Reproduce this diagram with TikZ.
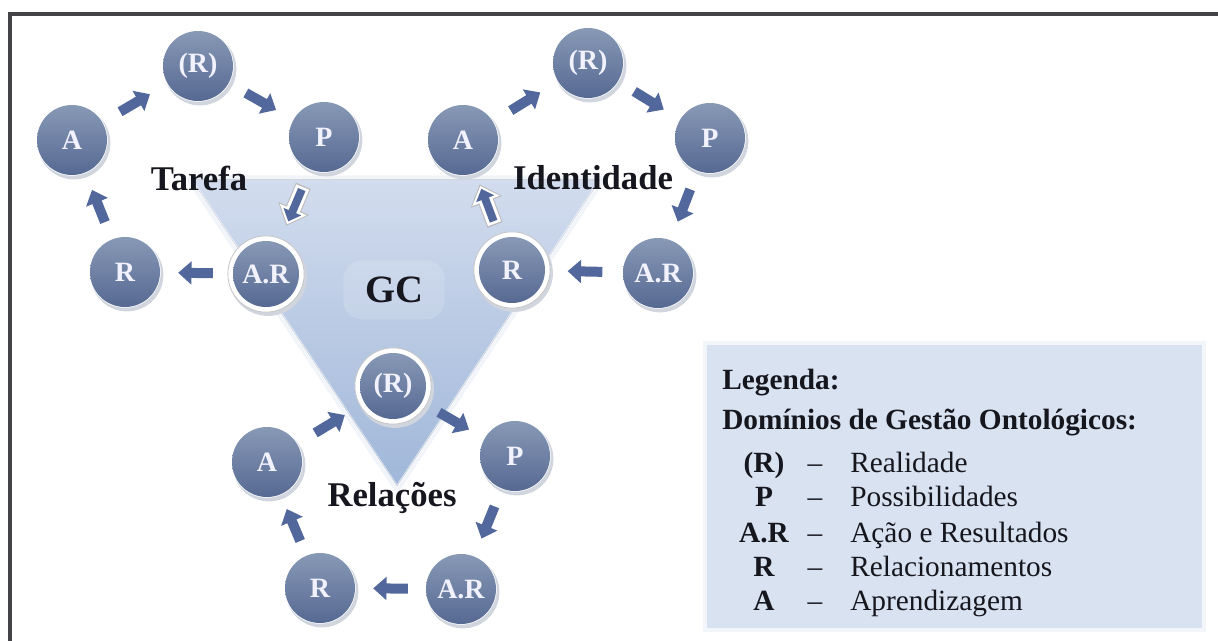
\documentclass[tikz,border=0pt]{standalone}
\usepackage{fontspec}
\setmainfont{Liberation Serif}
\usetikzlibrary{calc,arrows.meta}

\definecolor{ballTop}{RGB}{136,153,182}
\definecolor{ballBot}{RGB}{86,105,146}
\definecolor{arrowBlue}{RGB}{82,104,156}
\definecolor{triTop}{RGB}{210,220,238}
\definecolor{triBot}{RGB}{160,183,217}
\definecolor{legendFill}{RGB}{217,226,240}
\definecolor{frameGray}{RGB}{68,68,72}
\definecolor{rimGray}{RGB}{208,213,222}
\definecolor{inkDark}{RGB}{22,22,30}

\tikzset{
  dom/.style={circle, minimum size=52.5pt, inner sep=0pt,
    top color=ballTop, bottom color=ballBot, text=white!95!blue,
    font=\bfseries\fontsize{21}{21}\selectfont},
  domring/.style={dom, minimum size=49.5pt},
  cyclename/.style={text=inkDark, inner sep=0pt,
    font=\bfseries\fontsize{26}{26}\selectfont},
  blk/.style={arrowBlue, line width=7.5pt,
    -{Triangle[width=17pt,length=10pt]}},
  blkout/.style={line width=12pt, -{Triangle[width=24pt,length=14pt]}},
  legtext/.style={text=inkDark, inner sep=0pt, anchor=base,
    font=\fontsize{22}{22}\selectfont},
  legbold/.style={legtext, font=\bfseries\fontsize{22}{22}\selectfont},
}

% a domain circle with its soft rim
\newcommand\domain[3]{%
  \fill[rimGray] ($(#2)+(2,3)$) circle[radius=27.3pt];
  \fill[white] (#2) circle[radius=26.8pt];
  \node[dom] (#1) at (#2) {#3};}
% a domain circle framed by a white ring
\newcommand\domainring[3]{%
  \fill[rimGray] ($(#2)+(2,3)$) circle[radius=29.2pt];
  \filldraw[white, draw=gray!45, line width=0.6pt] (#2) circle[radius=28.6pt];
  \node[domring] (#1) at (#2) {#3};}
% short block arrow centred between two domains
\newcommand\flow[2]{%
  \draw[blk] ($(#1)!0.5!(#2)!13pt!(#1)$) -- ($(#1)!0.5!(#2)!13pt!(#2)$);}
% block arrow with a white outline
\newcommand\flowout[2]{%
  \draw[blkout, gray!55] ($(#1)!0.5!(#2)!16pt!(#1)$) -- ($(#1)!0.5!(#2)!16.5pt!(#2)$);
  \draw[blkout, white, line width=10.5pt, -{Triangle[width=21pt,length=12pt]}]
    ($(#1)!0.5!(#2)!15pt!(#1)$) -- ($(#1)!0.5!(#2)!15.3pt!(#2)$);
  \draw[blk, line width=6pt, -{Triangle[width=14pt,length=8pt]}]
    ($(#1)!0.5!(#2)!13pt!(#1)$) -- ($(#1)!0.5!(#2)!13pt!(#2)$);}

\begin{document}
\begin{tikzpicture}[x=0.75pt, y=-0.75pt]
\useasboundingbox (0,0) rectangle (1218,641);

% frame lines
\coordinate (fb) at (10,641);
\coordinate (fc) at (10,14);
\coordinate (fr) at (1218,14);
\draw[frameGray, line width=2.3pt] (fb) -- (fc) -- (fr);

% central inverted triangle (GC)
\coordinate (tl) at (192,180);
\coordinate (tr) at (600,180);
\coordinate (tb) at (397,486);
\draw[triBot!60, line width=7pt, opacity=0.25, line join=round] (tl) -- (tr) -- (tb) -- cycle;
\fill[top color=triTop, bottom color=triBot] (tl) -- (tr) -- (tb) -- cycle;
\draw[white, line width=1.6pt, opacity=0.55] (tl) -- (tb) -- (tr);

\node[fill=white, fill opacity=0.14, text opacity=1, rounded corners=14pt,
      minimum width=76pt, minimum height=44pt, text=inkDark,
      font=\bfseries\fontsize{29}{29}\selectfont] (gc) at (394,290) {GC};

% Tarefa cycle
\domain{tR}{198,66}{(R)}
\domain{tP}{324,137}{P}
\domainring{tAR}{266,274}{A.R}
\domain{tRr}{125,272}{R}
\domain{tA}{72,140}{A}
\flow{tR}{tP}
\flowout{tP}{tAR}
\flow{tAR}{tRr}
\flow{tRr}{tA}
\flow{tA}{tR}
\node[cyclename] (tarefa) at (199,178) {Tarefa};

% Identidade cycle
\domain{iR}{588,63}{(R)}
\domain{iP}{710,138}{P}
\domain{iAR}{658,273}{A.R}
\domainring{iRr}{512,270}{R}
\domain{iA}{463,140}{A}
\flow{iR}{iP}
\flow{iP}{iAR}
\flow{iAR}{iRr}
\flowout{iRr}{iA}
\flow{iA}{iR}
\node[cyclename] (identidade) at (593,178) {Identidade};

% Relações cycle
\domainring{rR}{393,386}{(R)}
\domain{rP}{515,456}{P}
\domain{rAR}{461,589}{A.R}
\domain{rRr}{320,588}{R}
\domain{rA}{267,462}{A}
\flow{rR}{rP}
\flow{rP}{rAR}
\flow{rAR}{rRr}
\flow{rRr}{rA}
\flow{rA}{rR}
\node[cyclename] (relacoes) at (392,498) {Relações};

% legend
\coordinate (la) at (707,345);
\coordinate (lb) at (1202,628);
\draw[legendFill, line width=6pt, opacity=0.35] (la) rectangle (lb);
\fill[legendFill] (la) rectangle (lb);
\node[legbold, anchor=base west] (leg) at (722,390) {Legenda:};
\node[legbold, anchor=base west] (dom) at (722,430) {Domínios de Gestão Ontológicos:};

\node[legbold] (s1) at (764,473) {(R)};
\node[legtext] (d1) at (815,473) {–};
\node[legtext, anchor=base west] (t1) at (850,473) {Realidade};

\node[legbold] (s2) at (764,507) {P};
\node[legtext] (d2) at (815,507) {–};
\node[legtext, anchor=base west] (t2) at (850,507) {Possibilidades};

\node[legbold] (s3) at (764,542) {A.R};
\node[legtext] (d3) at (815,542) {–};
\node[legtext, anchor=base west] (t3) at (850,542) {Ação e Resultados};

\node[legbold] (s4) at (764,576) {R};
\node[legtext] (d4) at (815,576) {–};
\node[legtext, anchor=base west] (t4) at (850,576) {Relacionamentos};

\node[legbold] (s5) at (764,610) {A};
\node[legtext] (d5) at (815,610) {–};
\node[legtext, anchor=base west] (t5) at (850,610) {Aprendizagem};
\end{tikzpicture}
\end{document}
